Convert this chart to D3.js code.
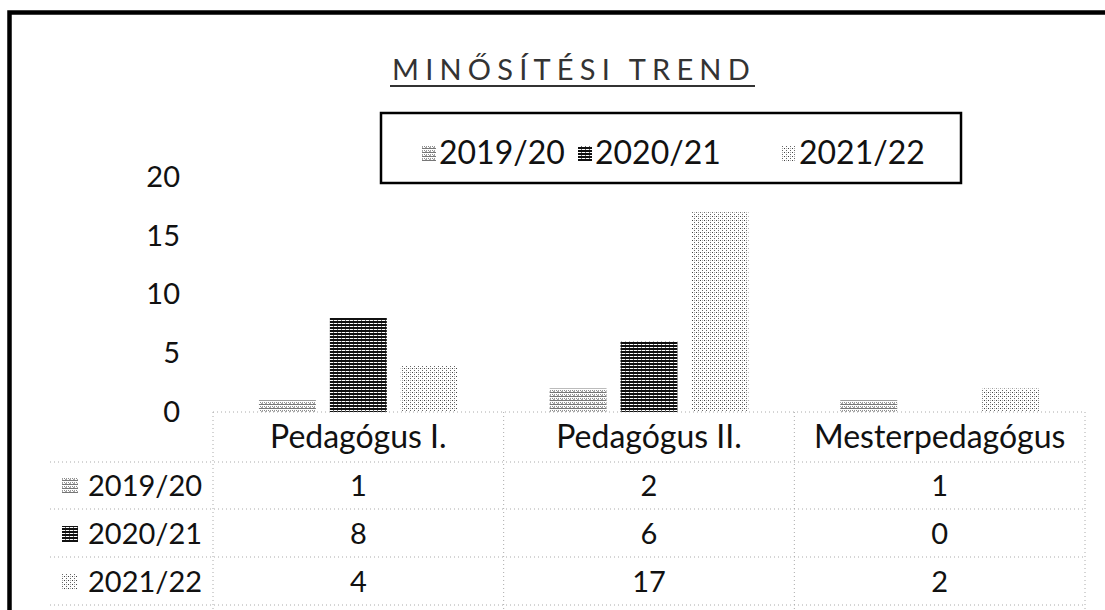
<!DOCTYPE html>
<html><head><meta charset="utf-8">
<script src="https://cdn.jsdelivr.net/npm/d3@7"></script>
<style>html,body{margin:0;padding:0;background:#fff;}svg{display:block;font-family:Lato,"Open Sans",sans-serif;}</style>
</head><body>
<script>
const title = "MINŐSÍTÉSI TREND";
const categories = ["Pedagógus I.", "Pedagógus II.", "Mesterpedagógus"];
const seriesNames = ["2019/20", "2020/21", "2021/22"];
const values2019 = [1, 2, 1];
const values2020 = [8, 6, 0];
const values2021 = [4, 17, 2];
const yTicks = [0, 5, 10, 15, 20];

const seriesValues = [values2019, values2020, values2021];
const W = 1105, H = 610;
const svg = d3.select("body").append("svg").attr("width", W).attr("height", H);
const defs = svg.append("defs");

// patterns emulating the scanned halftone fills
const p1 = defs.append("pattern").attr("id", "pat0").attr("patternUnits", "userSpaceOnUse").attr("width", 4).attr("height", 4);
p1.append("rect").attr("width", 4).attr("height", 4).attr("fill", "#fff");
p1.append("rect").attr("y", 0).attr("width", 4).attr("height", 1).attr("fill", "#777");
p1.append("rect").attr("x", 0).attr("y", 2).attr("width", 1).attr("height", 1).attr("fill", "#888");
p1.append("rect").attr("x", 2).attr("y", 2).attr("width", 1).attr("height", 1).attr("fill", "#999");
p1.append("rect").attr("x", 1).attr("y", 3).attr("width", 2).attr("height", 1).attr("fill", "#aaa");

const p2 = defs.append("pattern").attr("id", "pat1").attr("patternUnits", "userSpaceOnUse").attr("width", 4).attr("height", 3);
p2.append("rect").attr("width", 4).attr("height", 3).attr("fill", "#fff");
p2.append("rect").attr("width", 4).attr("height", 2).attr("fill", "#111");
p2.append("rect").attr("x", 1).attr("y", 2).attr("width", 1).attr("height", 1).attr("fill", "#666");

const p3 = defs.append("pattern").attr("id", "pat2").attr("patternUnits", "userSpaceOnUse").attr("width", 4).attr("height", 4);
p3.append("rect").attr("width", 4).attr("height", 4).attr("fill", "#fff");
p3.append("rect").attr("x", 0).attr("y", 0).attr("width", 1).attr("height", 1).attr("fill", "#444");
p3.append("rect").attr("x", 2).attr("y", 2).attr("width", 1).attr("height", 1).attr("fill", "#666");
p3.append("rect").attr("x", 2).attr("y", 0).attr("width", 1).attr("height", 1).attr("fill", "#aaa");

const fills = ["url(#pat0)", "url(#pat1)", "url(#pat2)"];

// outer frame
svg.append("rect").attr("x", 9.5).attr("y", 12.5).attr("width", 1300).attr("height", 800)
  .attr("fill", "none").attr("stroke", "#000").attr("stroke-width", 4.5);

// title
svg.append("text").attr("x", 392).attr("y", 80)
  .attr("font-size", 29).attr("letter-spacing", 6.2).attr("fill", "#333").text(title);
svg.append("line").attr("x1", 390).attr("x2", 755).attr("y1", 86).attr("y2", 86)
  .attr("stroke", "#333").attr("stroke-width", 2);

// scales
const x = d3.scaleBand().domain(categories).range([213, 1085]).paddingInner(0).paddingOuter(0);
const xs = d3.scaleBand().domain(seriesNames).range([0, x.bandwidth()]).paddingInner(0.197).paddingOuter(0.648);
const y = d3.scaleLinear().domain([0, 20]).range([412, 177]);

// y axis labels
const yAxis = d3.axisLeft(y).tickValues(yTicks).tickSize(0).tickPadding(0);
const yg = svg.append("g").attr("transform", "translate(180,0)").call(yAxis);
yg.select(".domain").remove();
yg.selectAll("text").attr("font-size", 29).attr("font-family", "Lato").attr("fill", "#111");

// bars
seriesNames.forEach((s, si) => {
  svg.append("g").selectAll("rect").data(categories.map((c, ci) => ({c, v: seriesValues[si][ci]})))
    .join("rect")
    .attr("x", d => x(d.c) + xs(s))
    .attr("width", xs.bandwidth())
    .attr("y", d => y(d.v))
    .attr("height", d => y(0) - y(d.v))
    .attr("fill", fills[si]);
});

// data table
const rowY = [462, 509, 557, 605];
const tbl = svg.append("g").attr("stroke", "#aaa").attr("stroke-width", 1).attr("stroke-dasharray", "1,3");
tbl.append("line").attr("x1", 213).attr("x2", 1085).attr("y1", y(0)).attr("y2", y(0));
rowY.forEach(ry => tbl.append("line").attr("x1", 50).attr("x2", 1085).attr("y1", ry).attr("y2", ry));
const colEdges = categories.map(c => x(c)).concat([x(categories[2]) + x.bandwidth()]);
colEdges.forEach(cx => tbl.append("line").attr("x1", cx).attr("x2", cx).attr("y1", y(0)).attr("y2", 610));

svg.append("g").selectAll("text").data(categories).join("text")
  .attr("x", d => x(d) + x.bandwidth() / 2).attr("y", 448).attr("text-anchor", "middle")
  .attr("font-size", 32).attr("fill", "#111").text(d => d);

const rowBase = [496, 544, 592];
seriesNames.forEach((s, si) => {
  svg.append("rect").attr("x", 62).attr("y", rowBase[si] - 18).attr("width", 16).attr("height", 16).attr("fill", fills[si]);
  svg.append("text").attr("x", 88).attr("y", rowBase[si]).attr("font-size", 29).attr("fill", "#111").text(s);
  svg.append("g").selectAll("text").data(categories).join("text")
    .attr("x", d => x(d) + x.bandwidth() / 2).attr("y", rowBase[si]).attr("text-anchor", "middle")
    .attr("font-size", 29).attr("fill", "#111").text((d, ci) => seriesValues[si][ci]);
});

// legend
svg.append("rect").attr("x", 381).attr("y", 113).attr("width", 580).attr("height", 70)
  .attr("fill", "#fff").attr("stroke", "#000").attr("stroke-width", 2.5);
const legX = [422, 578, 782];
seriesNames.forEach((s, si) => {
  svg.append("rect").attr("x", legX[si]).attr("y", 146).attr("width", 14).attr("height", 15).attr("fill", fills[si]);
  svg.append("text").attr("x", legX[si] + 17).attr("y", 164).attr("font-size", 32).attr("fill", "#111").text(s);
});
</script>
</body></html>
